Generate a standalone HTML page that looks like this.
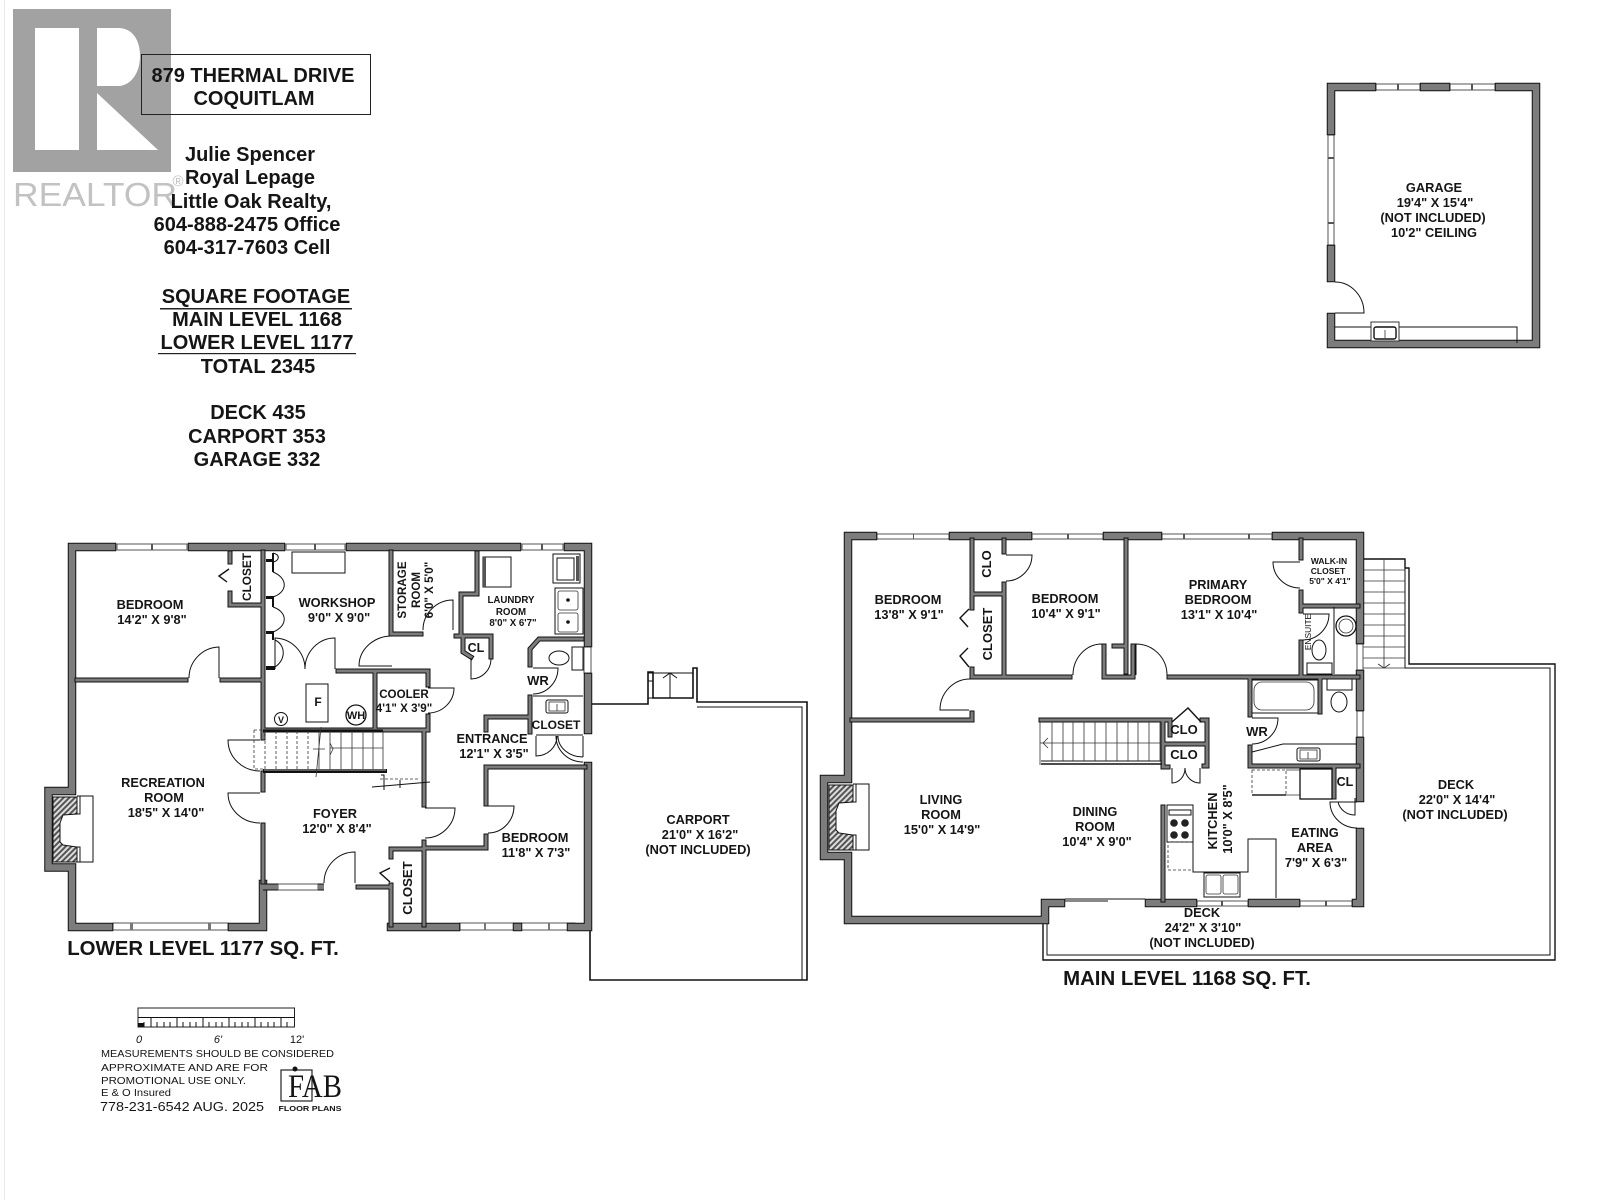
<!DOCTYPE html>
<html><head><meta charset="utf-8"><title>879 Thermal Drive floor plan</title>
<style>
html,body{margin:0;padding:0;background:#fff;width:1600px;height:1200px;overflow:hidden}
svg{display:block}
text{font-family:"Liberation Sans",Arial,sans-serif;font-weight:bold;fill:#151515;text-anchor:middle}
.t{font-size:12.8px}
.h{font-size:20px}
.a{font-size:20px}
.n{font-size:20.4px}
.s{font-size:11.6px}
.x{font-size:9.7px}
.m{font-weight:normal;text-anchor:start;font-size:10px}
.thin{fill:none;stroke:#111;stroke-width:1}
.lt{fill:none;stroke:#333;stroke-width:.8}
.win{fill:#fff;stroke:#555;stroke-width:1}
</style></head><body>
<svg width="1600" height="1200" viewBox="0 0 1600 1200" xmlns="http://www.w3.org/2000/svg">
<defs>
<pattern id="hatch" width="4" height="4" patternUnits="userSpaceOnUse" patternTransform="rotate(45)">
<rect width="4" height="4" fill="#ddd"/><rect width="2" height="4" fill="#555"/>
</pattern>
<g id="fire">
<polygon points="53,797 77,797 77,814 63,815 60,823 60,842 63,845 77,847 77,862 53,862" fill="url(#hatch)" stroke="#111" stroke-width="1"/>
<path class="thin" d="M77 796H93V862H77M77 814H80V796M77 847H80V862"/>
</g>
<g id="ext" fill="none" stroke-linecap="square" stroke-linejoin="miter">
<!-- lower level -->
<path d="M112 547H72V791H48.5V867.500H72V927H109"/>
<path d="M192 547H281"/>
<path d="M350 547H517"/>
<path d="M568 547H588V643"/>
<path d="M588 677V730"/>
<path d="M588 766V927H571"/>
<path d="M456 927H391"/>
<path d="M232 927H263V884"/>
<path d="M517 927H518"/>
<!-- main level -->
<path d="M873 536H848V779H824V856H848V920H1045V903H1061"/>
<path d="M953 536H1028"/>
<path d="M1107 536H1158"/>
<path d="M1276 536H1360V640"/>
<path d="M1360 674V707"/>
<path d="M1360 741V798"/>
<path d="M1360 832V903H1356"/>
<path d="M1149 903H1193"/>
<path d="M1252 903H1296"/>
<!-- garage -->
<path d="M1372 87H1331V131"/>
<path d="M1331 249V278"/>
<path d="M1331 317V344H1536V87H1499"/>
<path d="M1424 87H1446"/>
</g>
<g id="int" fill="none" stroke-linecap="square" stroke-linejoin="miter">
<!-- lower: bedroom/closet -->
<path d="M77 680H186"/>
<path d="M222 680H262"/>
<path d="M230 553V562"/>
<path d="M230 593V605H262"/>
<path d="M263 552V738"/>
<path d="M263 773V790"/>
<path d="M263 825V882"/>
<path d="M391 552V634H421"/>
<path d="M338 671H428V685"/>
<path d="M375 673V730"/>
<path d="M266 730H428V716"/>
<path d="M424 733V805"/>
<path d="M424 842V925"/>
<path d="M391 857V849H424"/>
<path d="M391 885V925"/>
<path d="M358 887H391"/>
<path d="M477 553V594H461V633"/>
<path d="M456 636H491V657"/>
<path d="M463 638V652L471 657"/>
<path d="M582 639H539L530 649V665"/>
<path d="M530 697V732"/>
<path d="M486 730V717H530"/>
<path d="M486 767H585"/>
<path d="M486 767V804"/>
<path d="M486 836V848H427"/>
<!-- main -->
<path d="M852 720H972V713"/>
<path d="M972 540V608"/>
<path d="M972 669V677H1070"/>
<path d="M1004 540V552"/>
<path d="M1004 584V675"/>
<path d="M974 594H1002"/>
<path d="M1126 540V672"/>
<path d="M1104 646V677H1133V646"/>
<path d="M1114 646H1124"/>
<path d="M1169 677H1358"/>
<path d="M1301 540V558"/>
<path d="M1301 592V611"/>
<path d="M1301 642V677"/>
<path d="M1303 606H1358"/>
<path d="M1250 679V715"/>
<path d="M1250 747V766H1358"/>
<path d="M1320 679V712"/>
<path d="M1163 807V900"/>
<path d="M1041 720H1170V735"/>
<path d="M1163 722V767H1168"/>
<path d="M1165 744H1205"/>
<path d="M1202 720H1207V766H1204"/>
<path d="M1334 768V797"/>
</g>
<g id="entry" fill="none" stroke-linecap="butt">
<path d="M263 887H278"/>
<path d="M318 887H324"/>
</g>
</defs>

<rect width="1600" height="1200" fill="#fff"/>
<rect x="4" y="0" width="1" height="1200" fill="#e8e8e8"/>

<!-- realtor logo -->
<rect x="13" y="9" width="158" height="163" fill="#a2a2a2"/>
<rect x="35" y="28" width="44" height="122" fill="#fff"/>
<path d="M97 28H118C134 28 140 42 140 56C140 74 130 86 118 86H97Z" fill="#fff"/>
<path d="M97 93L158 150H97Z" fill="#fff"/>
<text x="95" y="206" style="font-size:33px;font-weight:normal;fill:#c2c2c2" textLength="164" lengthAdjust="spacingAndGlyphs">REALTOR</text>
<text x="178" y="186" style="font-size:15px;font-weight:normal;fill:#bdbdbd">®</text>

<!-- header info -->
<rect x="141.500" y="54.500" width="229" height="60" fill="none" stroke="#222" stroke-width="1"/>
<text class="a" x="253" y="82">879 THERMAL DRIVE</text>
<text class="a" x="254" y="105">COQUITLAM</text>
<text class="h" x="250" y="161">Julie Spencer</text>
<text class="h" x="250" y="184">Royal Lepage</text>
<text class="h" x="251" y="208">Little Oak Realty,</text>
<text class="h" x="247" y="231">604-888-2475 Office</text>
<text class="h" x="247" y="254">604-317-7603 Cell</text>
<text class="h" x="256" y="303">SQUARE FOOTAGE</text>
<rect x="160" y="308" width="192" height="1.500" fill="#222"/>
<text class="h" x="257" y="326">MAIN LEVEL 1168</text>
<text class="h" x="257" y="349">LOWER LEVEL 1177</text>
<rect x="158" y="353" width="198" height="1.200" fill="#222"/>
<text class="h" x="258" y="373">TOTAL 2345</text>
<text class="h" x="258" y="419">DECK 435</text>
<text class="h" x="257" y="443">CARPORT 353</text>
<text class="h" x="257" y="466">GARAGE 332</text>

<!-- carport outline -->
<path class="thin" d="M592 704H648V672H653V698H693V668H697V702H807V980H590V924" style="stroke-width:1.600"/>
<path class="thin" d="M697 707H802V980M648 673H693M648 698H693M670 673V698M648 681H653M663 678L670 673L677 678"/>

<!-- deck outlines -->
<path class="thin" style="stroke-width:1.400" d="M1363 559H1405V568H1409V664H1555V960H1043V924"/>
<path class="thin" d="M1405 568V668H1550V955H1047V922"/>
<path class="lt" d="M1363 570H1405M1363 581H1405M1363 592H1405M1363 603H1405M1363 614H1405M1363 625H1405M1363 636H1405M1363 647H1405M1363 658H1405M1363 668H1405M1384 559V668M1378 664L1384 668L1390 664"/>

<!-- windows lower -->
<rect class="win" x="117" y="544" width="70" height="6"/><rect x="151" y="544" width="2" height="6" fill="#555"/>
<rect class="win" x="286" y="544" width="59" height="6"/><rect x="314" y="544" width="2" height="6" fill="#555"/>
<rect class="win" x="522" y="544" width="41" height="6"/><rect x="541" y="544" width="2" height="6" fill="#555"/>
<rect class="win" x="584" y="647" width="7" height="26"/>
<rect class="win" x="113" y="923" width="115" height="7"/><rect x="130" y="923" width="3" height="7" fill="#777"/><rect x="208" y="923" width="3" height="7" fill="#777"/>
<rect class="win" x="278" y="884" width="40" height="6"/>
<rect class="win" x="460" y="923" width="115" height="7"/><rect x="484" y="923" width="2" height="7" fill="#777"/><rect x="548" y="923" width="2" height="7" fill="#777"/>
<!-- windows main -->
<rect class="win" x="877" y="534" width="72" height="5"/><rect x="913" y="534" width="1" height="5" fill="#555"/>
<rect class="win" x="1032" y="534" width="71" height="5"/><rect x="1067" y="534" width="2" height="5" fill="#555"/>
<rect class="win" x="1162" y="534" width="110" height="5"/><rect x="1183" y="534" width="2" height="5" fill="#555"/><rect x="1248" y="534" width="2" height="5" fill="#555"/>
<rect class="win" x="1357" y="644" width="6" height="26"/>
<rect class="win" x="1357" y="711" width="6" height="26"/>
<rect class="win" x="1197" y="901" width="51" height="5"/><rect x="1221" y="901" width="2" height="5" fill="#555"/>
<rect class="win" x="1300" y="901" width="52" height="5"/><rect x="1325" y="901" width="2" height="5" fill="#555"/>
<path class="thin" d="M1065 899H1145M1065 901H1108"/>
<!-- windows garage -->
<rect class="win" x="1376" y="84" width="44" height="6"/><rect x="1397" y="84" width="2" height="6" fill="#555"/>
<rect class="win" x="1450" y="84" width="45" height="6"/><rect x="1471" y="84" width="2" height="6" fill="#555"/>
<rect class="win" x="1328" y="135" width="6" height="110"/><rect x="1328" y="157" width="6" height="2" fill="#555"/><rect x="1328" y="222" width="6" height="2" fill="#555"/>

<!-- walls -->
<use href="#ext" stroke="#111" stroke-width="8.500"/>
<use href="#ext" stroke="#7c7c7c" stroke-width="6.500"/>
<use href="#int" stroke="#111" stroke-width="5"/>
<use href="#int" stroke="#7c7c7c" stroke-width="3"/>
<use href="#entry" stroke="#111" stroke-width="7"/>
<use href="#entry" stroke="#7c7c7c" stroke-width="5"/>

<!-- fireplaces -->
<use href="#fire"/>
<use href="#fire" transform="translate(776 -12)"/>

<!-- doors lower -->
<g class="thin">
<path class="thin" d="M219 678V647A31 31 0 0 0 189 678"/>
<path class="thin" d="M275 669V638A31 31 0 0 1 305 669M335 669V638A30 31 0 0 0 305 669"/>
<path class="thin" d="M392 666H359A33 30 0 0 1 392 636"/>
<path class="thin" d="M453 630V600A30 30 0 0 0 423 630"/>
<path class="thin" d="M471 658V679A20 20 0 0 0 491 659"/>
<path class="thin" d="M428 688H454A26 25 0 0 1 428 713"/>
<path class="thin" d="M533 668H558A25 26 0 0 1 533 694"/>
<path class="thin" d="M425 808H455A30 30 0 0 1 425 838"/>
<path class="thin" d="M488 806H514A26 27 0 0 1 488 833"/>
<path class="thin" d="M260 793H228A32 30 0 0 0 260 823"/>
<path class="thin" d="M260 740H228A32 31 0 0 0 260 771"/>
<path class="thin" d="M355 883V852A31 31 0 0 0 324 883"/>
<path class="thin" d="M536 736V756A21 20 0 0 0 557 736M583 736V757M558 736A25 21 0 0 0 583 757M556 736A27 26 0 0 0 583 762M536 735H583"/>
<path class="thin" style="stroke-width:1.400" d="M229 569L219 576L227 582"/>
<path class="thin" style="stroke-width:1.400" d="M390 868L380 873L390 882"/>
<!-- main -->
<path class="thin" d="M969 710H940A30 31 0 0 1 970 679"/>
<path class="thin" d="M1006 555H1032A26 26 0 0 1 1006 581"/>
<path class="thin" d="M1102 675V644A29 31 0 0 0 1073 675"/>
<path class="thin" d="M1136 675V644A31 31 0 0 1 1167 675"/>
<path class="thin" d="M1300 562H1273A27 26 0 0 0 1300 588"/>
<path class="thin" d="M1303 614H1329A26 26 0 0 1 1303 640"/>
<path class="thin" d="M1252 718H1278A26 26 0 0 1 1252 744"/>
<path class="thin" d="M1172 768V783A13 15 0 0 0 1185 768M1200 768V783A15 15 0 0 1 1185 768"/>
<path class="thin" style="stroke-width:1.400" d="M1172 722L1188 708L1201 722"/>
<path class="thin" d="M1357 802H1330A27 26 0 0 0 1357 828"/>
<path class="thin" d="M1355 798V815A17 17 0 0 1 1338 802"/>
<path class="thin" style="stroke-width:1.400" d="M969 609L960 618L968 627M969 667L960 656L968 648"/>
<path class="thin" d="M1335 313H1364A29 31 0 0 0 1335 282"/>
</g>

<!-- workshop bifold and fixtures -->
<path class="thin" d="M273 553C281 555 279 561 273 562M273 572C288 578 288 592 273 597M273 607C288 612 288 626 273 632M275 640C286 645 286 660 275 667"/>
<path d="M266 559H274V562H266ZM272 553H274V572H272ZM266 596H274V599H266ZM272 597H274V607H272ZM266 631H274V634H266ZM272 632H274V640H272ZM266 666H275V670H266Z" fill="#111"/>
<rect class="thin" x="292" y="552" width="53" height="21"/>
<rect class="thin" x="306" y="684" width="22" height="38"/>
<text x="318" y="706" style="font-size:12px">F</text>
<circle class="thin" cx="281" cy="719" r="6.500"/>
<text x="281" y="723" style="font-size:9px">V</text>
<circle class="thin" style="stroke-width:1.300" cx="356" cy="715" r="10"/>
<text x="356" y="719" style="font-size:11px">WH</text>

<!-- lower stairs -->
<path d="M263 731H383" stroke="#111" stroke-width="3"/>
<path d="M263 771H387" stroke="#111" stroke-width="4"/>
<path d="M264 770H386" stroke="#777" stroke-width="1.500"/>
<g style="stroke-dasharray:3 2;fill:none;stroke:#333;stroke-width:.8">
<path d="M254 730V769H263M254 730H263M265 731V769M276 731V769M287 731V769M297 731V769M308 731V769"/>
<path d="M380 779H420"/>
</g>
<path class="lt" d="M319 731V769M330 731V769M341 731V769M352 731V769M363 731V769M373 731V769M383 731V769M330 748H383M321 727L316 777M313 749H325M330 743L333 749L330 755"/>
<path class="thin" d="M381 775H384V790M372 787L430 782M400 780V788"/>

<!-- laundry fixtures -->
<rect class="thin" x="483" y="557" width="28" height="30"/><rect x="483" y="557" width="3" height="30" fill="#555"/>
<rect class="thin" x="553" y="554" width="27" height="29"/><rect class="thin" x="557" y="558" width="17" height="22"/><rect x="576" y="556" width="3" height="25" fill="#555"/>
<rect class="thin" x="555" y="588" width="28" height="46"/>
<rect class="lt" x="558" y="591" width="20" height="19" rx="2"/><rect class="lt" x="558" y="613" width="20" height="19" rx="2"/>
<circle cx="568" cy="600" r="1.800" fill="#111"/><circle cx="568" cy="622" r="1.800" fill="#111"/>
<ellipse class="thin" cx="559" cy="658" rx="10" ry="7"/>
<rect class="thin" x="572" y="647" width="11" height="23"/>
<path class="thin" d="M533 696H583"/>
<rect class="thin" x="546" y="700" width="22" height="13" rx="2"/><rect class="lt" x="549" y="702" width="16" height="9"/><path class="lt" d="M557 704V711"/>

<!-- main stairs -->
<path d="M1041 761H1162" stroke="#111" stroke-width="1"/><path d="M1041 764H1162" stroke="#111" stroke-width="1.500"/>
<path class="lt" d="M1040 722V765M1052 722V761M1063 722V761M1073 722V761M1084 722V761M1095 722V761M1106 722V761M1117 722V761M1128 722V761M1138 722V761M1149 722V761M1160 722V761M1040 743H1160M1048 738L1043 743L1048 748"/>

<!-- kitchen -->
<rect class="thin" x="1167" y="805" width="26" height="37"/><rect class="thin" x="1169" y="810" width="22" height="5"/>
<circle cx="1174" cy="823" r="3.800" fill="#222"/><circle cx="1185" cy="823" r="3.800" fill="#222"/>
<circle cx="1174" cy="835" r="3.800" fill="#222"/><circle cx="1185" cy="835" r="3.800" fill="#222"/>
<rect class="lt" style="stroke-dasharray:3 2" x="1168" y="842" width="25" height="28"/>
<path class="thin" d="M1193 842V872H1248V839H1276V898"/>
<rect class="thin" x="1204" y="873" width="36" height="24"/><rect class="lt" x="1206" y="875" width="15" height="19" rx="2"/><rect class="lt" x="1223" y="875" width="15" height="19" rx="2"/>
<!-- bath etc -->
<rect class="thin" x="1252" y="680" width="66" height="33"/><rect class="lt" x="1254" y="682" width="60" height="28" rx="8"/>
<ellipse class="thin" cx="1339" cy="702" rx="8" ry="10"/><rect class="thin" x="1327" y="679" width="25" height="11"/>
<rect class="thin" x="1297" y="748" width="23" height="13" rx="2"/><rect class="lt" x="1300" y="750" width="17" height="9"/><path class="lt" d="M1308 752V759"/>
<path class="thin" d="M1252 752L1283 744H1357"/>
<rect class="lt" style="stroke-dasharray:3 2" x="1252" y="770" width="34" height="25"/>
<path d="M1252 795H1286" stroke="#222" stroke-width="1.500"/>
<path class="lt" d="M1286 770H1300M1286 795H1300"/>
<rect class="thin" style="stroke-width:1.300" x="1300" y="769" width="32" height="30"/>
<path class="thin" d="M1334 802H1357"/>
<circle class="thin" style="stroke-width:1.300" cx="1346" cy="626" r="10"/><circle class="lt" cx="1346" cy="626" r="7"/>
<ellipse class="thin" cx="1319" cy="650" rx="7" ry="10"/><rect class="thin" x="1307" y="663" width="25" height="11"/>
<path class="thin" d="M1334 607V674"/>
<!-- garage fixtures -->
<path class="thin" d="M1335 327H1517V343"/>
<rect x="1371" y="322" width="28" height="19" fill="#fff" stroke="#333" stroke-width="1"/><rect class="thin" style="stroke-width:1.400" x="1374" y="327" width="22" height="12" rx="2"/><path class="lt" d="M1385 330V338"/>

<!-- labels lower -->
<text class="t" x="150" y="609">BEDROOM</text><text class="t" x="152" y="624">14'2" X 9'8"</text>
<text class="t" x="337" y="607">WORKSHOP</text><text class="t" x="339" y="622">9'0" X 9'0"</text>
<text class="s" x="406" y="590" transform="rotate(-90 406 590)">STORAGE</text>
<text class="s" x="420" y="590" transform="rotate(-90 420 590)">ROOM</text>
<text class="s" x="433" y="590" transform="rotate(-90 433 590)">6'0" X 5'0"</text>
<text class="x" x="511" y="603">LAUNDRY</text><text class="x" x="511" y="615">ROOM</text><text class="x" x="513" y="626">8'0" X 6'7"</text>
<text x="476" y="652" style="font-size:12.500px">CL</text>
<text class="s" x="404" y="698">COOLER</text><text class="s" x="404" y="712">4'1" X 3'9"</text>
<text x="538" y="685" style="font-size:13px">WR</text>
<text class="t" x="492" y="743">ENTRANCE</text><text class="t" x="494" y="758">12'1" X 3'5"</text>
<text x="556" y="729" style="font-size:12px">CLOSET</text>
<text x="251" y="577" style="font-size:11.800px" transform="rotate(-90 251 577)">CLOSET</text>
<text class="t" x="335" y="818">FOYER</text><text class="t" x="337" y="833">12'0" X 8'4"</text>
<text class="t" x="163" y="787">RECREATION</text><text class="t" x="164" y="802">ROOM</text><text class="t" x="166" y="817">18'5" X 14'0"</text>
<text x="412" y="888" style="font-size:13.200px" transform="rotate(-90 412 888)">CLOSET</text>
<text class="t" x="535" y="842">BEDROOM</text><text class="t" x="536" y="857">11'8" X 7'3"</text>
<text class="t" x="698" y="824">CARPORT</text><text class="t" x="700" y="839">21'0" X 16'2"</text><text class="t" x="698" y="854">(NOT INCLUDED)</text>
<text class="n" x="203" y="955">LOWER LEVEL 1177 SQ. FT.</text>
<text class="n" x="1187" y="985">MAIN LEVEL 1168 SQ. FT.</text>

<!-- labels main -->
<text class="t" x="908" y="604">BEDROOM</text><text class="t" x="909" y="619">13'8" X 9'1"</text>
<text x="991" y="564" style="font-size:13px" transform="rotate(-90 991 564)">CLO</text>
<text x="992" y="634" style="font-size:13px" transform="rotate(-90 992 634)">CLOSET</text>
<text class="t" x="1065" y="603">BEDROOM</text><text class="t" x="1066" y="618">10'4" X 9'1"</text>
<text class="t" x="1218" y="589">PRIMARY</text><text class="t" x="1218" y="604">BEDROOM</text><text class="t" x="1219" y="619">13'1" X 10'4"</text>
<text x="1329" y="564" style="font-size:8.500px">WALK-IN</text><text x="1328" y="574" style="font-size:8.500px">CLOSET</text><text x="1330" y="584" style="font-size:8.500px">5'0" X 4'1"</text>
<text x="1311" y="632" style="font-size:8.400px;font-weight:normal" transform="rotate(-90 1311 632)">ENSUITE</text>
<text x="1184" y="734" style="font-size:13px">CLO</text><text x="1184" y="759" style="font-size:13px">CLO</text>
<text x="1257" y="736" style="font-size:13px">WR</text>
<text x="1345" y="786" style="font-size:12.500px">CL</text>
<text class="t" x="1217" y="821" transform="rotate(-90 1217 821)">KITCHEN</text>
<text class="t" x="1232" y="819" transform="rotate(-90 1232 819)">10'0" X 8'5"</text>
<text class="t" x="1315" y="837">EATING</text><text class="t" x="1315" y="852">AREA</text><text class="t" x="1316" y="867">7'9" X 6'3"</text>
<text class="t" x="1456" y="789">DECK</text><text class="t" x="1457" y="804">22'0" X 14'4"</text><text class="t" x="1455" y="819">(NOT INCLUDED)</text>
<text class="t" x="1202" y="917">DECK</text><text class="t" x="1203" y="932">24'2" X 3'10"</text><text class="t" x="1202" y="947">(NOT INCLUDED)</text>
<text class="t" x="941" y="804">LIVING</text><text class="t" x="941" y="819">ROOM</text><text class="t" x="942" y="834">15'0" X 14'9"</text>
<text class="t" x="1095" y="816">DINING</text><text class="t" x="1095" y="831">ROOM</text><text class="t" x="1097" y="846">10'4" X 9'0"</text>
<text class="t" x="1434" y="192">GARAGE</text><text class="t" x="1435" y="207">19'4" X 15'4"</text><text class="t" x="1433" y="222">(NOT INCLUDED)</text><text class="t" x="1434" y="237">10'2" CEILING</text>

<!-- scale -->
<rect x="138" y="1008" width="156.500" height="19" fill="#fff" stroke="#222" stroke-width="1"/>
<path class="thin" d="M138 1017.500H294M151 1018V1027M164 1022V1027M177 1018V1027M190 1022V1027M203 1018V1027M216 1022V1027M229 1018V1027M242 1022V1027M255 1018V1027M268 1022V1027M281 1018V1027M144 1022V1027M157 1022V1027M170 1022V1027M183 1022V1027M196 1022V1027M209 1022V1027M222 1022V1027M235 1022V1027M248 1022V1027M261 1022V1027M274 1022V1027M287 1022V1027"/>
<rect x="138" y="1023" width="6" height="4" fill="#111"/>
<text x="139" y="1043" style="font-size:11px;font-weight:normal;font-style:italic">0</text>
<text x="218" y="1043" style="font-size:11px;font-weight:normal;font-style:italic">6'</text>
<text x="297" y="1043" style="font-size:11px;font-weight:normal">12'</text>
<text class="m" x="101" y="1057" textLength="233" lengthAdjust="spacingAndGlyphs">MEASUREMENTS SHOULD BE CONSIDERED</text>
<text class="m" x="101" y="1071" textLength="167" lengthAdjust="spacingAndGlyphs">APPROXIMATE AND ARE FOR</text>
<text class="m" x="101" y="1084" textLength="145" lengthAdjust="spacingAndGlyphs">PROMOTIONAL USE ONLY.</text>
<text class="m" x="101" y="1096" textLength="70" lengthAdjust="spacingAndGlyphs">E &amp; O Insured</text>
<text class="m" x="100" y="1111" style="font-size:12.500px" textLength="164" lengthAdjust="spacingAndGlyphs">778-231-6542  AUG. 2025</text>
<rect x="281" y="1070" width="31" height="31" fill="none" stroke="#222" stroke-width="1.200"/>
<circle cx="295" cy="1069" r="2.500" fill="#111"/>
<text x="315" y="1097" style="font-family:'Liberation Serif',serif;font-weight:normal;font-size:33px" textLength="54" lengthAdjust="spacingAndGlyphs">FAB</text>
<text x="310" y="1111" style="font-size:7.500px" textLength="63" lengthAdjust="spacingAndGlyphs">FLOOR PLANS</text>
</svg>
</body></html>
